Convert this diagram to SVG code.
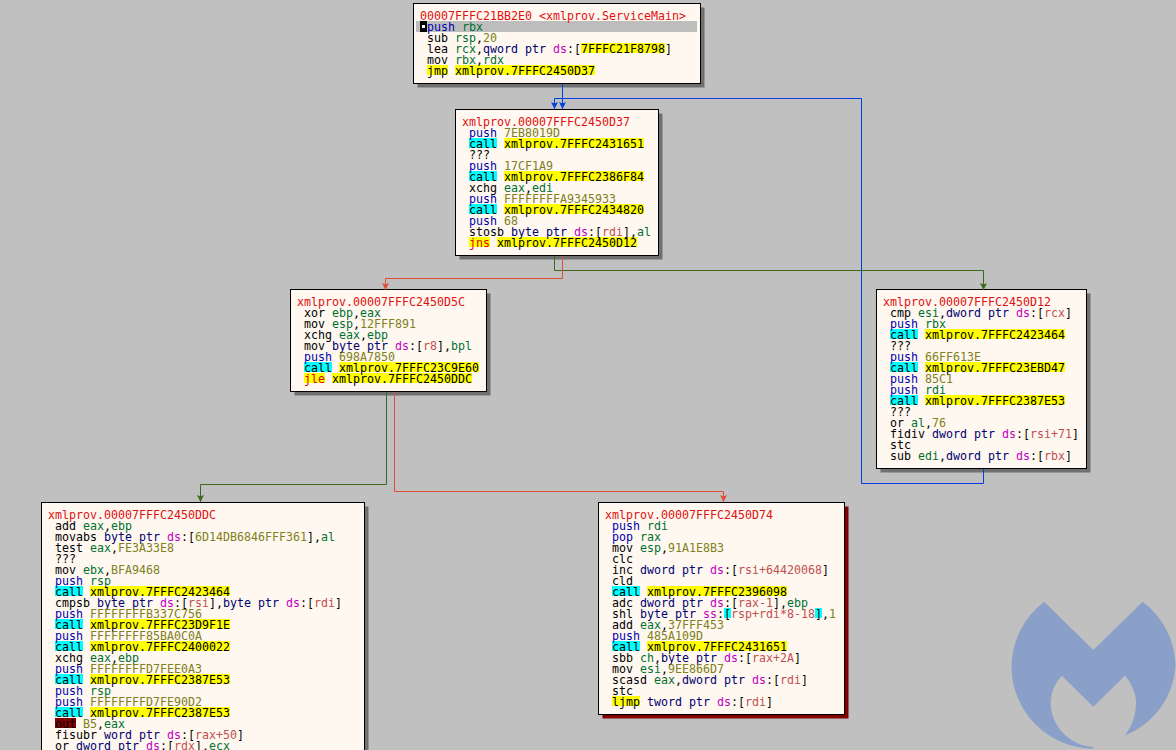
<svg xmlns="http://www.w3.org/2000/svg" width="1176" height="750" viewBox="0 0 1176 750">
<style>
text{font-family:"DejaVu Sans Mono","Liberation Mono",monospace;font-size:11.63px;fill:#000;white-space:pre}
.box{fill:#fff8f0;stroke:#000;stroke-width:1}
.sh{fill:#707070}
.t{fill:#e01010}
.u{fill:#0000b0}
.r{fill:#007030}
.i{fill:#808020}
.s{fill:#c000c0}
.p{fill:#000070}
.m{fill:#c05050}
.j{fill:#e00000}
.cy{fill:#00ffff}
.ye{fill:#ffff00}
.ou{fill:#800000}
.cn{fill:none;stroke-width:1}
.b{stroke:#0040e0}
.g{stroke:#3a6a1a}
.d{stroke:#e04c38}
</style>
<defs>
<marker id="ab" markerUnits="userSpaceOnUse" markerWidth="8" markerHeight="8" refX="7" refY="4" orient="auto"><path d="M0 0.5L7 4L0 7.5L1.5 4Z" fill="#0040e0"/></marker>
<marker id="ag" markerUnits="userSpaceOnUse" markerWidth="8" markerHeight="8" refX="7" refY="4" orient="auto"><path d="M0 0.5L7 4L0 7.5L1.5 4Z" fill="#3a6a1a"/></marker>
<marker id="ad" markerUnits="userSpaceOnUse" markerWidth="8" markerHeight="8" refX="7" refY="4" orient="auto"><path d="M0 0.5L7 4L0 7.5L1.5 4Z" fill="#e04c38"/></marker>
</defs>
<rect width="1176" height="750" fill="#c0c0c0"/>
<path id="logo" d="M1044.3 601.7L1093.3 650L1142.7 601.7A82 82 0 0 1 1175.5 666A80 80 0 0 1 1125 735.5Q1136.5 720 1136 701.7Q1135.5 688 1125 675.7L1093.3 706.7L1061.7 675.7Q1050.5 688 1050.7 703C1051 728 1072 746 1093.3 747L1093.3 748.5A82 82 0 0 1 1011.5 666A82 82 0 0 1 1044.3 601.7Z" fill="#8ba0c8"/>

<g id="n1" transform="translate(420,10)">
<rect class="sh" x="-2.5" y="-2.5" width="287" height="80"/>
<rect class="box" x="-6.5" y="-6.5" width="287" height="80"/>
<rect x="-4" y="11" width="281" height="11" fill="#bdbdbd"/>
<rect x="0" y="11" width="7" height="11" fill="#000"/>
<rect x="2" y="15" width="3" height="3" fill="#fff"/>
<rect class="ye" x="161" y="33" width="84" height="10"/>
<rect class="ye" x="7" y="55" width="21" height="10"/>
<rect class="ye" x="35" y="55" width="140" height="10"/>
<text y="10" class="t">00007FFFC21BB2E0 &lt;xmlprov.ServiceMain&gt;</text>
<text x="7" y="21"><tspan class="u">push</tspan> <tspan class="r">rbx</tspan></text>
<text x="7" y="32">sub <tspan class="r">rsp</tspan>,<tspan class="i">20</tspan></text>
<text x="7" y="43">lea <tspan class="r">rcx</tspan>,<tspan class="p">qword ptr</tspan> <tspan class="s">ds</tspan>:[7FFFC21F8798]</text>
<text x="7" y="54">mov <tspan class="r">rbx</tspan>,<tspan class="r">rdx</tspan></text>
<text x="7" y="65">jmp xmlprov.7FFFC2450D37</text>
</g>

<g id="n2" transform="translate(462,116)">
<rect class="sh" x="-2.5" y="-2.5" width="203" height="146"/>
<rect class="box" x="-6.5" y="-6.5" width="203" height="146"/>
<rect class="cy" x="7" y="22" width="28" height="10"/><rect class="ye" x="42" y="22" width="140" height="10"/>
<rect class="cy" x="7" y="55" width="28" height="10"/><rect class="ye" x="42" y="55" width="140" height="10"/>
<rect class="cy" x="7" y="88" width="28" height="10"/><rect class="ye" x="42" y="88" width="140" height="10"/>
<rect class="ye" x="7" y="121" width="21" height="10"/><rect class="ye" x="35" y="121" width="140" height="10"/>
<text y="10" class="t">xmlprov.00007FFFC2450D37</text>
<text x="7" y="21"><tspan class="u">push</tspan> <tspan class="i">7EB8019D</tspan></text>
<text x="7" y="32">call xmlprov.7FFFC2431651</text>
<text x="7" y="43">???</text>
<text x="7" y="54"><tspan class="u">push</tspan> <tspan class="i">17CF1A9</tspan></text>
<text x="7" y="65">call xmlprov.7FFFC2386F84</text>
<text x="7" y="76">xchg <tspan class="r">eax</tspan>,<tspan class="r">edi</tspan></text>
<text x="7" y="87"><tspan class="u">push</tspan> <tspan class="i">FFFFFFFFA9345933</tspan></text>
<text x="7" y="98">call xmlprov.7FFFC2434820</text>
<text x="7" y="109"><tspan class="u">push</tspan> <tspan class="i">68</tspan></text>
<text x="7" y="120">stosb <tspan class="p">byte ptr</tspan> <tspan class="s">ds</tspan>:[<tspan class="m">rdi</tspan>],<tspan class="r">al</tspan></text>
<text x="7" y="131"><tspan class="j">jns</tspan> xmlprov.7FFFC2450D12</text>
</g>

<g id="n3" transform="translate(297,296)">
<rect class="sh" x="-2.5" y="-2.5" width="196" height="102"/>
<rect class="box" x="-6.5" y="-6.5" width="196" height="102"/>
<rect class="cy" x="7" y="66" width="28" height="10"/><rect class="ye" x="42" y="66" width="140" height="10"/>
<rect class="ye" x="7" y="77" width="21" height="10"/><rect class="ye" x="35" y="77" width="140" height="10"/>
<text y="10" class="t">xmlprov.00007FFFC2450D5C</text>
<text x="7" y="21">xor <tspan class="r">ebp</tspan>,<tspan class="r">eax</tspan></text>
<text x="7" y="32">mov <tspan class="r">esp</tspan>,<tspan class="i">12FFF891</tspan></text>
<text x="7" y="43">xchg <tspan class="r">eax</tspan>,<tspan class="r">ebp</tspan></text>
<text x="7" y="54">mov <tspan class="p">byte ptr</tspan> <tspan class="s">ds</tspan>:[<tspan class="m">r8</tspan>],<tspan class="r">bpl</tspan></text>
<text x="7" y="65"><tspan class="u">push</tspan> <tspan class="i">698A7850</tspan></text>
<text x="7" y="76">call xmlprov.7FFFC23C9E60</text>
<text x="7" y="87"><tspan class="j">jle</tspan> xmlprov.7FFFC2450DDC</text>
</g>

<g id="n4" transform="translate(883,296)">
<rect class="sh" x="-2.5" y="-2.5" width="210" height="179"/>
<rect class="box" x="-6.5" y="-6.5" width="210" height="179"/>
<rect class="cy" x="7" y="33" width="28" height="10"/><rect class="ye" x="42" y="33" width="140" height="10"/>
<rect class="cy" x="7" y="66" width="28" height="10"/><rect class="ye" x="42" y="66" width="140" height="10"/>
<rect class="cy" x="7" y="99" width="28" height="10"/><rect class="ye" x="42" y="99" width="140" height="10"/>
<text y="10" class="t">xmlprov.00007FFFC2450D12</text>
<text x="7" y="21">cmp <tspan class="r">esi</tspan>,<tspan class="p">dword ptr</tspan> <tspan class="s">ds</tspan>:[<tspan class="m">rcx</tspan>]</text>
<text x="7" y="32"><tspan class="u">push</tspan> <tspan class="r">rbx</tspan></text>
<text x="7" y="43">call xmlprov.7FFFC2423464</text>
<text x="7" y="54">???</text>
<text x="7" y="65"><tspan class="u">push</tspan> <tspan class="i">66FF613E</tspan></text>
<text x="7" y="76">call xmlprov.7FFFC23EBD47</text>
<text x="7" y="87"><tspan class="u">push</tspan> <tspan class="i">85C1</tspan></text>
<text x="7" y="98"><tspan class="u">push</tspan> <tspan class="r">rdi</tspan></text>
<text x="7" y="109">call xmlprov.7FFFC2387E53</text>
<text x="7" y="120">???</text>
<text x="7" y="131">or <tspan class="r">al</tspan>,<tspan class="i">76</tspan></text>
<text x="7" y="142">fidiv <tspan class="p">dword ptr</tspan> <tspan class="s">ds</tspan>:[<tspan class="m">rsi+71</tspan>]</text>
<text x="7" y="153">stc</text>
<text x="7" y="164">sub <tspan class="r">edi</tspan>,<tspan class="p">dword ptr</tspan> <tspan class="s">ds</tspan>:[<tspan class="m">rbx</tspan>]</text>
</g>

<g id="n5" transform="translate(48,509)">
<rect class="sh" x="-2.5" y="-2.5" width="323" height="300"/>
<rect class="box" x="-6.5" y="-6.5" width="323" height="300"/>
<rect class="cy" x="7" y="77" width="28" height="10"/><rect class="ye" x="42" y="77" width="140" height="10"/>
<rect class="cy" x="7" y="110" width="28" height="10"/><rect class="ye" x="42" y="110" width="140" height="10"/>
<rect class="cy" x="7" y="132" width="28" height="10"/><rect class="ye" x="42" y="132" width="140" height="10"/>
<rect class="cy" x="7" y="165" width="28" height="10"/><rect class="ye" x="42" y="165" width="140" height="10"/>
<rect class="cy" x="7" y="198" width="28" height="10"/><rect class="ye" x="42" y="198" width="140" height="10"/>
<rect class="ou" x="7" y="209" width="21" height="10"/>
<text y="10" class="t">xmlprov.00007FFFC2450DDC</text>
<text x="7" y="21">add <tspan class="r">eax</tspan>,<tspan class="r">ebp</tspan></text>
<text x="7" y="32">movabs <tspan class="p">byte ptr</tspan> <tspan class="s">ds</tspan>:[<tspan class="i">6D14DB6846FFF361</tspan>],<tspan class="r">al</tspan></text>
<text x="7" y="43">test <tspan class="r">eax</tspan>,<tspan class="i">FE3A33E8</tspan></text>
<text x="7" y="54">???</text>
<text x="7" y="65">mov <tspan class="r">ebx</tspan>,<tspan class="i">BFA9468</tspan></text>
<text x="7" y="76"><tspan class="u">push</tspan> <tspan class="r">rsp</tspan></text>
<text x="7" y="87">call xmlprov.7FFFC2423464</text>
<text x="7" y="98">cmpsb <tspan class="p">byte ptr</tspan> <tspan class="s">ds</tspan>:[<tspan class="m">rsi</tspan>],<tspan class="p">byte ptr</tspan> <tspan class="s">ds</tspan>:[<tspan class="m">rdi</tspan>]</text>
<text x="7" y="109"><tspan class="u">push</tspan> <tspan class="i">FFFFFFFFB337C756</tspan></text>
<text x="7" y="120">call xmlprov.7FFFC23D9F1E</text>
<text x="7" y="131"><tspan class="u">push</tspan> <tspan class="i">FFFFFFFF85BA0C0A</tspan></text>
<text x="7" y="142">call xmlprov.7FFFC2400022</text>
<text x="7" y="153">xchg <tspan class="r">eax</tspan>,<tspan class="r">ebp</tspan></text>
<text x="7" y="164"><tspan class="u">push</tspan> <tspan class="i">FFFFFFFFD7FEE0A3</tspan></text>
<text x="7" y="175">call xmlprov.7FFFC2387E53</text>
<text x="7" y="186"><tspan class="u">push</tspan> <tspan class="r">rsp</tspan></text>
<text x="7" y="197"><tspan class="u">push</tspan> <tspan class="i">FFFFFFFFD7FE90D2</tspan></text>
<text x="7" y="208">call xmlprov.7FFFC2387E53</text>
<text x="7" y="219">out <tspan class="i">B5</tspan>,<tspan class="r">eax</tspan></text>
<text x="7" y="230">fisubr <tspan class="p">word ptr</tspan> <tspan class="s">ds</tspan>:[<tspan class="m">rax+50</tspan>]</text>
<text x="7" y="241">or <tspan class="p">dword ptr</tspan> <tspan class="s">ds</tspan>:[<tspan class="m">rdx</tspan>],<tspan class="r">ecx</tspan></text>
</g>

<g id="n6" transform="translate(605,509)">
<rect x="-2.5" y="-2.5" width="246" height="212" fill="#800000"/>
<rect class="box" x="-6.5" y="-6.5" width="246" height="212"/>
<rect class="cy" x="7" y="77" width="28" height="10"/><rect class="ye" x="42" y="77" width="140" height="10"/>
<rect class="cy" x="119" y="99" width="7" height="10"/><rect class="cy" x="210" y="99" width="7" height="10"/>
<rect class="cy" x="7" y="132" width="28" height="10"/><rect class="ye" x="42" y="132" width="140" height="10"/>
<rect class="ye" x="7" y="187" width="28" height="10"/>
<text y="10" class="t">xmlprov.00007FFFC2450D74</text>
<text x="7" y="21"><tspan class="u">push</tspan> <tspan class="r">rdi</tspan></text>
<text x="7" y="32"><tspan class="u">pop</tspan> <tspan class="r">rax</tspan></text>
<text x="7" y="43">mov <tspan class="r">esp</tspan>,<tspan class="i">91A1E8B3</tspan></text>
<text x="7" y="54">clc</text>
<text x="7" y="65">inc <tspan class="p">dword ptr</tspan> <tspan class="s">ds</tspan>:[<tspan class="m">rsi+64420068</tspan>]</text>
<text x="7" y="76">cld</text>
<text x="7" y="87">call xmlprov.7FFFC2396098</text>
<text x="7" y="98">adc <tspan class="p">dword ptr</tspan> <tspan class="s">ds</tspan>:[<tspan class="m">rax-1</tspan>],<tspan class="r">ebp</tspan></text>
<text x="7" y="109">shl <tspan class="p">byte ptr</tspan> <tspan class="s">ss</tspan>:[<tspan class="m">rsp+rdi*8-18</tspan>],<tspan class="i">1</tspan></text>
<text x="7" y="120">add <tspan class="r">eax</tspan>,<tspan class="i">37FFF453</tspan></text>
<text x="7" y="131"><tspan class="u">push</tspan> <tspan class="i">485A109D</tspan></text>
<text x="7" y="142">call xmlprov.7FFFC2431651</text>
<text x="7" y="153">sbb <tspan class="r">ch</tspan>,<tspan class="p">byte ptr</tspan> <tspan class="s">ds</tspan>:[<tspan class="m">rax+2A</tspan>]</text>
<text x="7" y="164">mov <tspan class="r">esi</tspan>,<tspan class="i">9EE866D7</tspan></text>
<text x="7" y="175">scasd <tspan class="r">eax</tspan>,<tspan class="p">dword ptr</tspan> <tspan class="s">ds</tspan>:[<tspan class="m">rdi</tspan>]</text>
<text x="7" y="186">stc</text>
<text x="7" y="197">ljmp <tspan class="p">tword ptr</tspan> <tspan class="s">ds</tspan>:[<tspan class="m">rdi</tspan>]</text>
</g>

<g id="connectors">
<path class="cn b" d="M562.5 84V109" marker-end="url(#ab)"/>
<path class="cn b" d="M983.5 469V483.5H861.5V98.5H554.5V109" marker-end="url(#ab)"/>
<path class="cn g" d="M554.5 256V270.5H983.5V290" marker-end="url(#ag)"/>
<path class="cn d" d="M562.5 256V278.5H385.5V290" marker-end="url(#ad)"/>
<path class="cn g" d="M386.5 392V484.5H200.5V502" marker-end="url(#ag)"/>
<path class="cn d" d="M394.5 392V491.5H723.5V502" marker-end="url(#ad)"/>
</g>
</svg>
